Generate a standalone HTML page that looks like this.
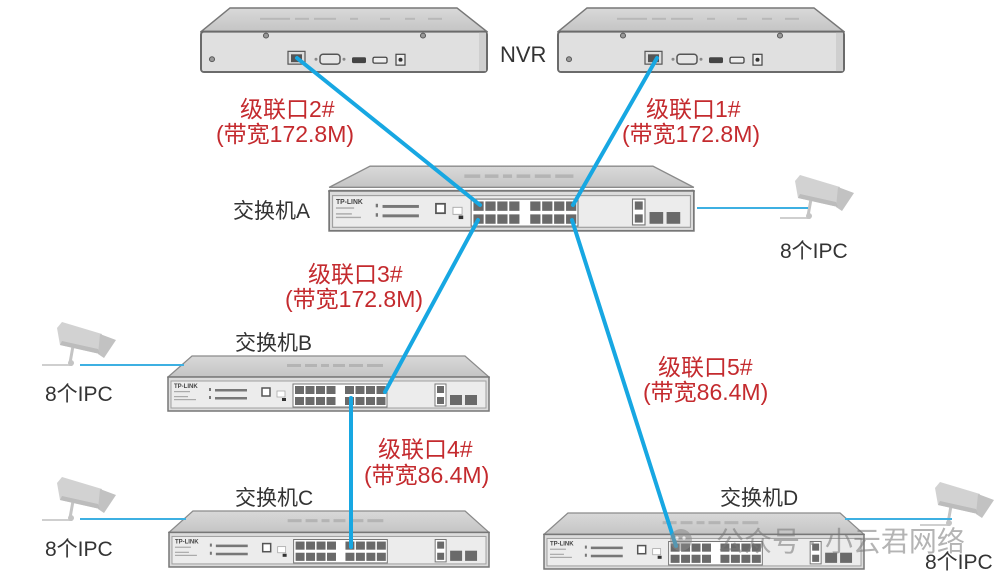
<!DOCTYPE html>
<html><head><meta charset="utf-8">
<style>
html,body{margin:0;padding:0;background:#fff;}
svg{display:block;}
.red{font-family:"Liberation Sans","Noto Sans CJK SC",sans-serif;font-size:23px;fill:#c42a2e;}
.blk{font-family:"Liberation Sans","Noto Sans CJK SC",sans-serif;font-size:21px;fill:#333;}
</style></head>
<body>
<svg width="1002" height="580" viewBox="0 0 1002 580" xmlns="http://www.w3.org/2000/svg">
<defs>
  <linearGradient id="topg" x1="0" y1="0" x2="0" y2="1">
    <stop offset="0" stop-color="#d9d9d9"/><stop offset="1" stop-color="#c4c4c4"/>
  </linearGradient>
  <symbol id="sw" viewBox="0 0 323 57" preserveAspectRatio="none">
    <polygon points="1,22 25,1 298,1 322,22" fill="url(#topg)" stroke="#8a8a8a" stroke-width="1.2"/>
    <g fill="#b4b4b4">
      <rect x="120" y="9" width="14" height="3"/><rect x="138" y="9" width="12" height="3"/>
      <rect x="154" y="9" width="8" height="3"/><rect x="166" y="9" width="12" height="3"/>
      <rect x="182" y="9" width="14" height="3"/><rect x="200" y="9" width="16" height="3"/>
    </g>
    <rect x="1" y="22" width="321" height="34" fill="#dcdcdc" stroke="#777" stroke-width="1.5"/>
    <rect x="4" y="26" width="315" height="27" fill="#ececec" stroke="#a0a0a0" stroke-width="1"/>
    <text x="7" y="33" font-family="Liberation Sans,sans-serif" font-size="6" font-weight="bold" fill="#444">TP-LINK</text>
    <g fill="#aaa">
      <rect x="7" y="36" width="16" height="1.2"/><rect x="7" y="41" width="14" height="1.2"/><rect x="7" y="44" width="22" height="1.2"/>
    </g>
    <g fill="#777">
      <rect x="42" y="33" width="2" height="3"/><rect x="42" y="41" width="2" height="3"/>
      <rect x="48" y="34" width="32" height="2.5"/><rect x="48" y="42" width="32" height="2.5"/>
    </g>
    <rect x="95" y="33" width="8" height="8" fill="#fff" stroke="#555" stroke-width="1.5"/>
    <rect x="110" y="36" width="8" height="6" fill="#fff" stroke="#aaa" stroke-width="0.8"/>
    <rect x="115" y="43" width="4" height="3" fill="#333"/>
    <rect x="126" y="29" width="94" height="23" fill="#fff" stroke="#777" stroke-width="1"/>
    <g fill="#6a6a6a">
      <rect x="128" y="31" width="9" height="8"/><rect x="138.5" y="31" width="9" height="8"/><rect x="149" y="31" width="9" height="8"/><rect x="159.5" y="31" width="9" height="8"/>
      <rect x="178" y="31" width="9" height="8"/><rect x="188.5" y="31" width="9" height="8"/><rect x="199" y="31" width="9" height="8"/><rect x="209.5" y="31" width="9" height="8"/>
      <rect x="128" y="42" width="9" height="8"/><rect x="138.5" y="42" width="9" height="8"/><rect x="149" y="42" width="9" height="8"/><rect x="159.5" y="42" width="9" height="8"/>
      <rect x="178" y="42" width="9" height="8"/><rect x="188.5" y="42" width="9" height="8"/><rect x="199" y="42" width="9" height="8"/><rect x="209.5" y="42" width="9" height="8"/>
    </g>
    <rect x="268" y="29" width="11" height="22" fill="#fff" stroke="#777" stroke-width="1"/>
    <rect x="270" y="31" width="7" height="7" fill="#6a6a6a"/><rect x="270" y="42" width="7" height="7" fill="#6a6a6a"/>
    <rect x="283" y="40" width="12" height="10" fill="#6a6a6a"/><rect x="298" y="40" width="12" height="10" fill="#6a6a6a"/>
  </symbol>
  <symbol id="swa" viewBox="0 0 323 57" preserveAspectRatio="none">
    <polygon points="1,19 37,1 286,1 322,19" fill="url(#topg)" stroke="#8a8a8a" stroke-width="1.2"/>
    <g fill="#b4b4b4">
      <rect x="120" y="8" width="14" height="3"/><rect x="138" y="8" width="12" height="3"/>
      <rect x="154" y="8" width="8" height="3"/><rect x="166" y="8" width="12" height="3"/>
      <rect x="182" y="8" width="14" height="3"/><rect x="200" y="8" width="16" height="3"/>
    </g>
    <use href="#sw" x="0" y="0" width="323" height="57" clip-path="url(#frontclip)"/>
  </symbol>
  <clipPath id="frontclip"><rect x="0" y="21" width="323" height="36"/></clipPath>
  <symbol id="nvr" viewBox="0 0 288 68" preserveAspectRatio="none">
    <polygon points="1,25 30,1 257,1 287,25" fill="url(#topg)" stroke="#777" stroke-width="1.5"/>
    <g fill="#b8b8b8">
      <rect x="60" y="11" width="30" height="2"/><rect x="95" y="11" width="14" height="2"/><rect x="114" y="11" width="22" height="2"/>
      <rect x="150" y="11" width="8" height="2"/><rect x="180" y="11" width="10" height="2"/><rect x="205" y="11" width="10" height="2"/><rect x="228" y="11" width="14" height="2"/>
    </g>
    <rect x="1" y="25" width="286" height="41" rx="3" fill="#e0e0e0" stroke="#6b6b6b" stroke-width="2"/>
    <rect x="279" y="26" width="7" height="39" fill="#cfcfcf"/>
    <circle cx="66" cy="29" r="2.5" fill="#999" stroke="#555"/>
    <circle cx="223" cy="29" r="2.5" fill="#999" stroke="#555"/>
    <circle cx="12" cy="53" r="2.5" fill="#999" stroke="#555"/>
    <rect x="88" y="45" width="17" height="13" fill="#ddd" stroke="#555" stroke-width="1.2"/>
    <rect x="91" y="48" width="11" height="8" fill="#555"/>
    <circle cx="116" cy="53" r="1.5" fill="#888"/>
    <rect x="120" y="48" width="20" height="10" rx="3" fill="#e6e6e6" stroke="#555" stroke-width="1.5"/>
    <circle cx="144" cy="53" r="1.5" fill="#888"/>
    <rect x="152" y="51" width="14" height="6" rx="1.5" fill="#444"/>
    <rect x="173" y="51" width="14" height="6" rx="1.5" fill="#eee" stroke="#444" stroke-width="1.3"/>
    <rect x="196" y="48" width="9" height="11" fill="#eee" stroke="#444" stroke-width="1.2"/>
    <circle cx="200.5" cy="53.5" r="2" fill="#333"/>
  </symbol>
  <symbol id="cam" viewBox="0 0 80 50">
    <line x1="33" y1="28" x2="30" y2="45" stroke="#c4c4c4" stroke-width="3"/>
    <line x1="2" y1="47" x2="32" y2="47" stroke="#cfcfcf" stroke-width="2"/>
    <circle cx="31" cy="45" r="3" fill="#c4c4c4"/>
    <polygon points="17,10 22,4 62,16 60,36 20,27" fill="#d2d2d2"/>
    <polygon points="60,16 76,22 64,40 58,36" fill="#c2c2c2"/>
    <polygon points="20,27 60,36 58,31 22,23" fill="#bcbcbc"/>
  </symbol>
</defs>

<!-- NVRs -->
<use href="#nvr" x="200" y="7" width="288" height="67"/>
<use href="#nvr" x="557" y="7" width="288" height="67"/>

<!-- Switches -->
<use href="#swa" x="328" y="165" width="367" height="67"/>
<use href="#sw" x="167" y="355" width="323" height="57"/>
<use href="#sw" x="168" y="510" width="322" height="58"/>
<use href="#sw" x="543" y="512" width="322" height="58"/>

<!-- Cameras -->
<use href="#cam" x="40" y="318" width="80" height="50"/>
<use href="#cam" x="40" y="473" width="80" height="50"/>
<use href="#cam" x="778" y="171" width="80" height="50"/>
<use href="#cam" x="918" y="478" width="80" height="50"/>

<!-- thin IPC lines -->
<g stroke="#3db0e2" stroke-width="2">
  <line x1="697" y1="208" x2="808" y2="208"/>
  <line x1="80" y1="365" x2="184" y2="365"/>
  <line x1="80" y1="519" x2="186" y2="519"/>
  <line x1="845" y1="519" x2="952" y2="519"/>
</g>

<!-- cascade lines -->
<g stroke="#17a7e2" stroke-width="4" stroke-linecap="round">
  <line x1="297" y1="58" x2="480" y2="205"/>
  <line x1="657" y1="58" x2="573" y2="205"/>
  <line x1="478" y1="220" x2="385" y2="392"/>
  <line x1="351" y1="398" x2="351" y2="547"/>
  <line x1="572" y1="220" x2="676" y2="546"/>
</g>

<!-- Red labels -->
<text class="red" x="240" y="117">级联口2#</text>
<text class="red" x="216" y="142">(带宽172.8M)</text>
<text class="red" x="646" y="117">级联口1#</text>
<text class="red" x="622" y="142">(带宽172.8M)</text>
<text class="red" x="308" y="282">级联口3#</text>
<text class="red" x="285" y="307">(带宽172.8M)</text>
<text class="red" x="658" y="375">级联口5#</text>
<text class="red" x="643" y="400">(带宽86.4M)</text>
<text class="red" x="378" y="457">级联口4#</text>
<text class="red" x="364" y="483">(带宽86.4M)</text>

<!-- Black labels -->
<text class="blk" x="500" y="62" style="font-size:22px">NVR</text>
<text class="blk" x="233" y="218">交换机A</text>
<text class="blk" x="235" y="350">交换机B</text>
<text class="blk" x="235" y="505">交换机C</text>
<text class="blk" x="720" y="505">交换机D</text>
<text class="blk" x="780" y="258">8个IPC</text>
<text class="blk" x="45" y="401">8个IPC</text>
<text class="blk" x="45" y="556">8个IPC</text>
<text class="blk" x="925" y="569">8个IPC</text>

<!-- watermark -->
<g opacity="0.55">
  <circle cx="681" cy="540" r="11" fill="#8a8a8a"/>
  <circle cx="677" cy="538" r="1.6" fill="#fff"/><circle cx="684" cy="538" r="1.6" fill="#fff"/>
  <text x="716" y="551" font-family="Liberation Sans,'Noto Sans CJK SC',sans-serif" font-size="28" fill="#777">公众号 · 小云君网络</text>
</g>
</svg>
</body></html>
